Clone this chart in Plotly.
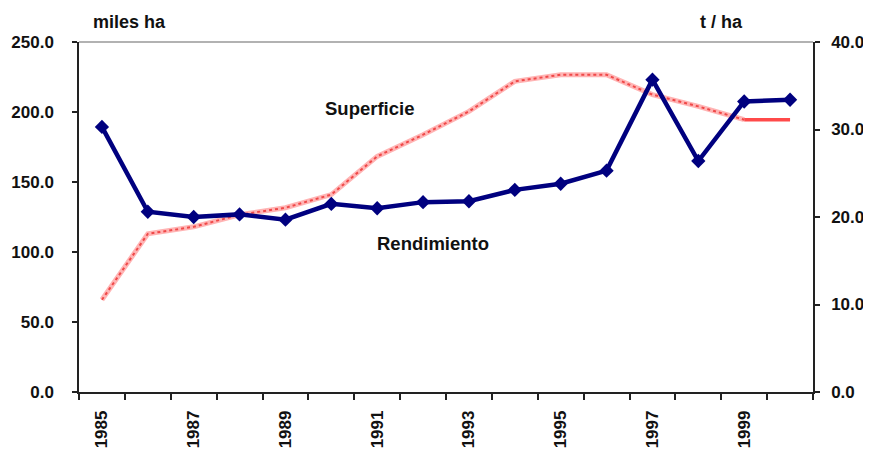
import plotly.graph_objects as go

years = list(range(1985, 2001))
superficie = [65.9, 113.0, 118.0, 126.6, 131.6, 141.0, 168.3, 183.8, 200.4, 221.9,
              226.6, 226.6, 212.4, 204.0, 194.5, 194.5]
rendimiento = [30.3, 20.6, 20.0, 20.3, 19.7, 21.5, 21.0, 21.7, 21.8, 23.1,
               23.8, 25.3, 35.7, 26.4, 33.2, 33.4]
label_years = [1985, 1987, 1989, 1991, 1993, 1995, 1997, 1999]
left_ticks = [0, 50, 100, 150, 200, 250]
right_ticks = [0, 10, 20, 30, 40]

FONT = "Liberation Sans"
fig = go.Figure()

# Superficie: textured pink line up to 1999, solid red last segment
fig.add_trace(go.Scatter(x=years[:-1], y=superficie[:-1], mode="lines",
                         line=dict(color="#ffb4b4", width=5), yaxis="y",
                         showlegend=False, hoverinfo="skip"))
fig.add_trace(go.Scatter(x=years[:-1], y=superficie[:-1], mode="lines",
                         line=dict(color="#f04848", width=2, dash="dot"), yaxis="y",
                         showlegend=False))
fig.add_trace(go.Scatter(x=years[-2:], y=superficie[-2:], mode="lines",
                         line=dict(color="#ff4a4a", width=3.5), yaxis="y",
                         showlegend=False))

# Rendimiento
fig.add_trace(go.Scatter(x=years, y=rendimiento, mode="lines+markers",
                         line=dict(color="#00007f", width=4.5),
                         marker=dict(symbol="diamond", size=11, color="#00007f"),
                         yaxis="y2", showlegend=False))

tick_font = dict(family=FONT, size=17, color="#111111", weight="bold")


def label(text, x, y, size=18):
    return dict(text=text, xref="paper", yref="paper", x=x, y=y,
                xanchor="center", yanchor="middle", showarrow=False,
                font=dict(family=FONT, size=size, color="#111111", weight="bold"))


fig.update_layout(
    width=863, height=441,
    margin=dict(l=71, r=58, t=34, b=57, autoexpand=False),
    paper_bgcolor="white", plot_bgcolor="white",
    xaxis=dict(range=[1984.5, 2000.5], tickmode="array", tickvals=label_years,
               ticktext=[str(y) for y in label_years], tickangle=-90,
               ticks="", tickfont=tick_font, ticklabelstandoff=10, automargin=False,
               showgrid=False, zeroline=False,
               showline=True, linecolor="#222222", linewidth=1.5, mirror=False,
               minor=dict(tickvals=[y - 0.5 for y in years] + [2000.5],
                          ticks="outside", ticklen=6, tickcolor="#222222", tickwidth=1.5)),
    yaxis=dict(range=[0, 250], tickvals=left_ticks, tickformat=".1f",
               ticks="outside", ticklen=5, tickcolor="#222222", tickwidth=1.5,
               tickfont=tick_font, ticklabelstandoff=15, automargin=False,
               showgrid=False, zeroline=False,
               showline=True, linecolor="#222222", linewidth=1.5),
    yaxis2=dict(range=[0, 40], tickvals=right_ticks, tickformat=".1f",
                overlaying="y", side="right",
                ticks="outside", ticklen=5, tickcolor="#222222", tickwidth=1.5,
                tickfont=tick_font, ticklabelstandoff=8, automargin=False,
                showgrid=False, zeroline=False,
                showline=True, linecolor="#222222", linewidth=1.5),
    shapes=[dict(type="line", xref="paper", yref="paper", x0=0, x1=1, y0=1, y1=1,
                 line=dict(color="#666666", width=1.2))],
    annotations=[
        label("Superficie", 0.396, 0.811, 18.5),
        label("Rendimiento", 0.482, 0.423, 18.5),
        label("miles ha", 0.069, 1.057),
        label("t / ha", 0.876, 1.057),
    ],
)

fig.write_html("out.html")
